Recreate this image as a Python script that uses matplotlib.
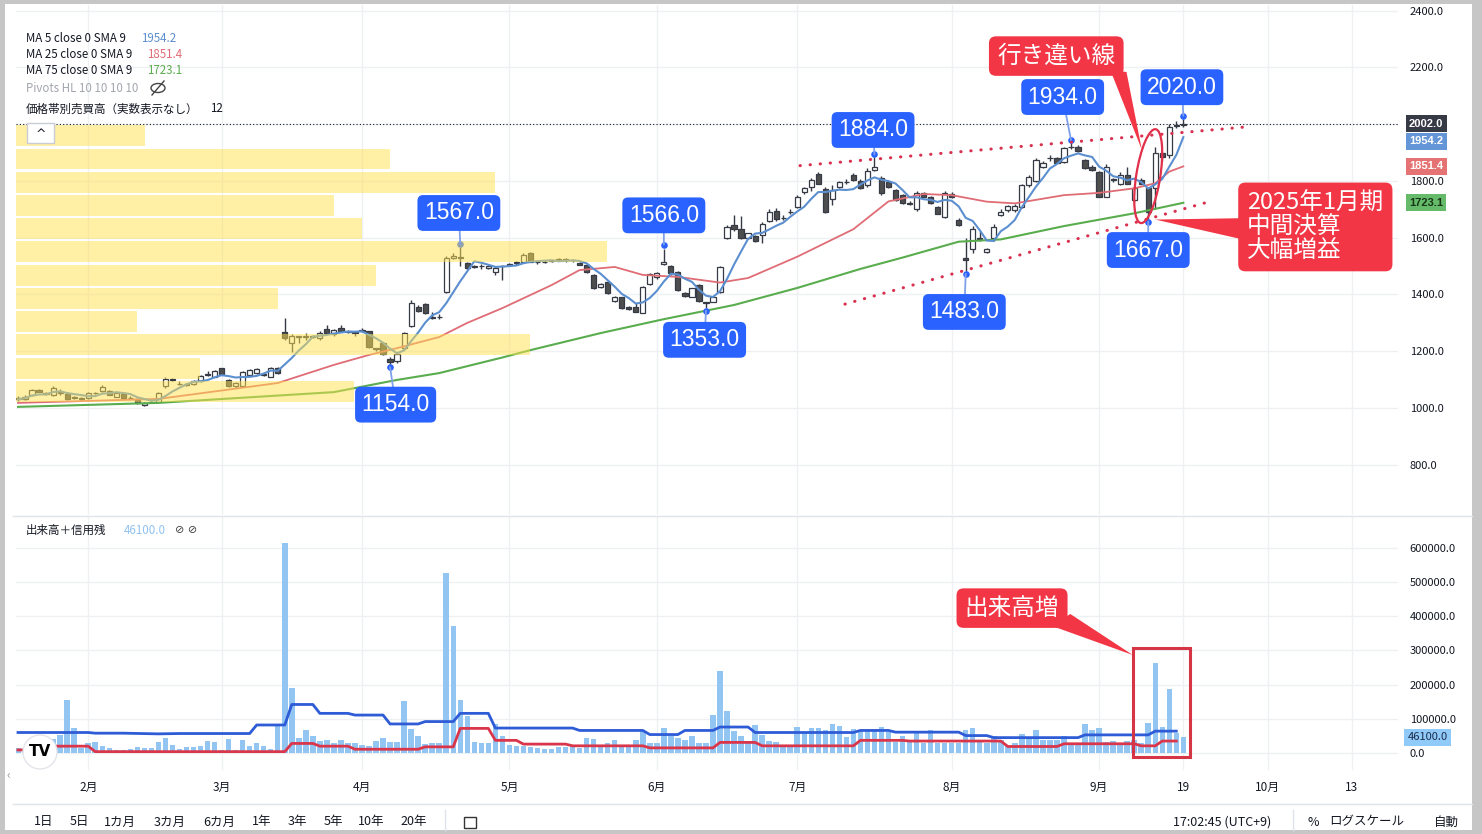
import numpy as np
import pandas as pd
import matplotlib
matplotlib.use("Agg")
import matplotlib.pyplot as plt
from matplotlib.patches import Rectangle, Ellipse, Polygon
from matplotlib.lines import Line2D
from matplotlib import transforms

plt.rcParams["font.family"] = ["Noto Sans CJK JP", "DejaVu Sans"]

# ================================
# DATA (daily candles)
# ================================

opens = [
    1035, 1032, 1045, 1062, 1052, 1045, 1058, 1048, 1035, 1030,
    1034, 1052, 1060, 1060, 1040, 1050, 1036, 1030, 1012, 1020,
    1022, 1078, 1102, 1085, 1082, 1085, 1095, 1118, 1110, 1140,
    1098, 1078, 1078, 1118, 1122, 1118, 1110, 1142, 1268, 1228,
    1250, 1250, 1250, 1245, 1280, 1260, 1282, 1270, 1268, 1275,
    1270, 1210, 1228, 1172, 1165, 1210, 1290, 1355, 1365, 1318,
    1322, 1408, 1530, 1533, 1510, 1500, 1500, 1495, 1480, 1500,
    1505, 1510, 1516, 1545, 1513, 1513, 1518, 1522, 1523, 1522,
    1512, 1505, 1468, 1427, 1444, 1376, 1390, 1356, 1356, 1335,
    1436, 1460, 1508, 1500, 1479, 1405, 1392, 1433, 1370, 1375,
    1409, 1598, 1645, 1630, 1600, 1605, 1608, 1660, 1695, 1668,
    1690, 1710, 1760, 1780, 1825, 1770, 1735, 1780, 1795, 1820,
    1800, 1785, 1840, 1810, 1797, 1768, 1750, 1722, 1700, 1757,
    1742, 1707, 1672, 1755, 1662, 1527, 1560, 1598, 1550, 1598,
    1680, 1697, 1697, 1709, 1786, 1800, 1850, 1880, 1880, 1868,
    1918, 1920, 1874, 1850, 1830, 1745, 1805, 1790, 1822, 1733,
    1805, 1774, 1774, 1897, 1890, 1995, 1998,
]
highs = [
    1042, 1045, 1068, 1066, 1058, 1078, 1068, 1058, 1042, 1038,
    1058, 1058, 1080, 1062, 1055, 1053, 1042, 1034, 1020, 1024,
    1058, 1110, 1105, 1095, 1088, 1098, 1118, 1130, 1135, 1142,
    1102, 1092, 1132, 1138, 1142, 1125, 1145, 1146, 1316, 1260,
    1255, 1265, 1258, 1272, 1292, 1280, 1292, 1275, 1270, 1282,
    1272, 1212, 1232, 1178, 1195, 1268, 1380, 1362, 1370, 1340,
    1330, 1535, 1545, 1567, 1515, 1503, 1508, 1505, 1500, 1505,
    1510, 1518, 1545, 1548, 1518, 1520, 1523, 1527, 1528, 1526,
    1515, 1508, 1472, 1440, 1448, 1395, 1392, 1360, 1370, 1430,
    1475, 1480, 1562, 1505, 1482, 1408, 1424, 1436, 1375, 1395,
    1500, 1645, 1680, 1678, 1618, 1610, 1655, 1700, 1705, 1680,
    1700, 1750, 1778, 1812, 1830, 1780, 1785, 1800, 1808, 1828,
    1808, 1845, 1884, 1818, 1805, 1772, 1755, 1730, 1765, 1762,
    1748, 1712, 1765, 1760, 1668, 1600, 1640, 1625, 1565, 1650,
    1700, 1715, 1720, 1790, 1820, 1880, 1870, 1890, 1885, 1920,
    1934, 1925, 1878, 1855, 1835, 1860, 1812, 1830, 1850, 1778,
    1810, 1780, 1920, 1900, 2000, 2012, 2020,
]
lows = [
    1025, 1028, 1042, 1055, 1045, 1042, 1045, 1028, 1030, 1025,
    1032, 1048, 1058, 1045, 1038, 1035, 1030, 1015, 1008, 1018,
    1020, 1070, 1095, 1080, 1078, 1082, 1093, 1112, 1108, 1120,
    1075, 1072, 1075, 1115, 1120, 1112, 1108, 1120, 1240, 1197,
    1230, 1240, 1245, 1240, 1262, 1255, 1268, 1265, 1255, 1268,
    1212, 1200, 1188, 1154, 1160, 1205, 1285, 1340, 1332, 1312,
    1312, 1405, 1525, 1500, 1490, 1495, 1490, 1490, 1470, 1450,
    1500, 1505, 1514, 1514, 1508, 1510, 1515, 1518, 1515, 1516,
    1503, 1476, 1420, 1422, 1403, 1372, 1348, 1345, 1338, 1333,
    1432, 1455, 1505, 1470, 1412, 1392, 1390, 1374, 1353, 1372,
    1405, 1595, 1625, 1595, 1595, 1585, 1580, 1655, 1660, 1662,
    1685, 1705, 1755, 1765, 1788, 1688, 1715, 1775, 1788, 1800,
    1772, 1780, 1835, 1752, 1775, 1730, 1718, 1716, 1695, 1742,
    1718, 1683, 1668, 1740, 1642, 1483, 1545, 1590, 1545, 1590,
    1675, 1690, 1692, 1705, 1780, 1795, 1845, 1870, 1862, 1865,
    1912, 1902, 1842, 1835, 1742, 1742, 1798, 1785, 1788, 1725,
    1788, 1667, 1700, 1872, 1880, 1985, 1990,
]
closes = [
    1030, 1040, 1062, 1058, 1050, 1072, 1052, 1032, 1038, 1034,
    1052, 1053, 1075, 1047, 1052, 1037, 1035, 1018, 1018, 1021,
    1052, 1102, 1098, 1083, 1083, 1094, 1113, 1119, 1131, 1121,
    1078, 1088, 1128, 1134, 1138, 1119, 1141, 1122, 1248, 1252,
    1250, 1252, 1253, 1266, 1266, 1275, 1270, 1268, 1266, 1271,
    1215, 1208, 1190, 1162, 1190, 1265, 1370, 1342, 1336, 1320,
    1320, 1528, 1535, 1530, 1495, 1497, 1502, 1500, 1492, 1500,
    1506, 1513, 1540, 1516, 1513, 1514, 1520, 1523, 1522, 1521,
    1505, 1478, 1424, 1437, 1406, 1392, 1352, 1350, 1340, 1426,
    1471, 1476, 1515, 1476, 1415, 1395, 1422, 1376, 1371, 1392,
    1497, 1638, 1630, 1600, 1615, 1590, 1650, 1690, 1665, 1670,
    1692, 1745, 1775, 1803, 1790, 1692, 1767, 1795, 1797, 1805,
    1775, 1836, 1850, 1756, 1780, 1733, 1722, 1720, 1758, 1745,
    1722, 1685, 1757, 1743, 1645, 1520, 1630, 1595, 1560, 1638,
    1692, 1712, 1712, 1786, 1815, 1874, 1865, 1880, 1865, 1915,
    1920, 1905, 1845, 1838, 1745, 1850, 1805, 1822, 1790, 1774,
    1790, 1690, 1897, 1884, 1990, 1998, 2002,
]
# volume in thousand shares
volumes_k = [
    15, 12, 15, 15, 18, 40, 53, 155, 72, 14,
    28, 31, 20, 14, 10, 10, 12, 18, 15, 14,
    31, 44, 22, 12, 17, 17, 20, 36, 33, 10,
    42, 10, 38, 20, 28, 20, 12, 79, 614, 190,
    45, 68, 49, 36, 39, 30, 39, 28, 28, 24,
    20, 36, 45, 32, 32, 152, 70, 50, 25, 28,
    30, 528, 372, 155, 107, 32, 28, 28, 84, 49,
    22, 20, 20, 18, 15, 13, 13, 18, 18, 21,
    15, 44, 41, 21, 29, 39, 20, 24, 39, 63,
    29, 29, 73, 49, 44, 37, 51, 29, 29, 112,
    241, 122, 63, 49, 34, 83, 54, 34, 31, 20,
    20, 76, 60, 73, 73, 68, 86, 80, 47, 70,
    64, 68, 66, 76, 60, 31, 51, 37, 60, 29,
    68, 29, 29, 29, 29, 68, 73, 39, 29, 51,
    39, 20, 29, 57, 47, 66, 39, 39, 39, 49,
    29, 29, 86, 66, 72, 32, 34, 29, 34, 39,
    29, 87, 264, 77, 187, 58, 46.1,
]

ma25_day = [0, 20, 37, 45, 50, 54, 60, 64, 69, 76, 80, 85, 89, 94, 100, 104,
            111, 119, 124, 129, 133, 138, 142, 149, 154, 159, 162, 164, 166]
ma25_val = [1018, 1032, 1088, 1152, 1187, 1211, 1250, 1300, 1352, 1433, 1486,
            1497, 1469, 1462, 1442, 1458, 1533, 1630, 1728, 1754, 1750, 1727,
            1721, 1750, 1758, 1774, 1792, 1833, 1851.4]
ma75_day = [0, 20, 45, 54, 60, 69, 73, 83, 92, 102, 111, 120, 126, 134, 140,
            149, 159, 166]
ma75_val = [1004, 1018, 1056, 1099, 1123, 1178, 1204, 1264, 1313, 1363, 1423,
            1490, 1530, 1586, 1594, 1641, 1686, 1723.1]

# margin balance (buy / sell), thousand shares
margin_buy_day = [0, 10, 11, 15, 20, 23, 33, 34, 38, 39, 42, 43, 47, 48, 52, 53,
                  57, 58, 62, 63, 67, 68, 79, 80, 89, 90, 94, 95, 99, 100, 104,
                  105, 119, 120, 124, 125, 134, 135, 138, 139, 151, 152, 161,
                  162, 165]
margin_buy_k = [60, 60, 58, 58, 56, 57, 57, 82, 82, 142, 142, 116, 116, 111,
                111, 85, 85, 92, 92, 116, 116, 73, 73, 66, 66, 54, 54, 66, 66,
                76, 76, 60, 60, 66, 66, 61, 61, 51, 51, 45, 45, 53, 53, 64, 64]
margin_sell_day = [0, 4, 5, 10, 11, 38, 39, 42, 43, 47, 48, 57, 58, 62, 63, 67,
                   68, 71, 72, 78, 79, 89, 90, 99, 100, 105, 106, 119, 120, 126,
                   127, 140, 141, 148, 149, 159, 160, 162, 163, 165]
margin_sell_k = [9, 9, 20, 20, 4, 4, 28, 28, 20, 20, 11, 11, 18, 18, 72, 72,
                 37, 37, 26, 26, 21, 21, 15, 15, 31, 31, 21, 21, 37, 37, 35, 35,
                 19, 19, 27, 27, 21, 21, 35, 35]

# volume profile, 12 rows bottom -> top (relative)
vp_rows = [338, 184, 514, 121, 262, 360, 592, 346, 318, 479, 374, 129]
vp_low, vp_high = 1018, 2000

# pivots HL
pivot_day = [53, 63, 92, 98, 122, 135, 150, 161, 166]
pivot_price = [1154, 1567, 1566, 1353, 1884, 1483, 1934, 1667, 2020]
pivot_is_high = [False, True, True, False, True, False, True, False, True]
pivot_label_offset = [(4, -27), (-1, 22.5), (0, 21), (-1, -21), (-1, 17.5),
                      (-1, -27.5), (-6, 31), (0, -20.5), (-1, 20.5)]

# hand-drawn trend lines
trend_upper_day = [111.4, 174.8]
trend_upper_price = [1854, 1990]
trend_lower_day = [117.8, 169.7]
trend_lower_price = [1366, 1727]

month_pos = [10, 29, 49, 70, 91, 111, 133, 154, 166, 178, 190]
month_labels = ["2月", "3月", "4月", "5月", "6月", "7月", "8月", "9月", "19", "10月", "13"]
price_ticks = [800, 1000, 1200, 1400, 1600, 1800, 2000, 2200, 2400]
vol_ticks = [0, 100000, 200000, 300000, 400000, 500000, 600000]

# ================================
# FIGURE
# ================================

W, H = 1482, 834
fig = plt.figure(figsize=(W / 100, H / 100), dpi=100)
fig.patch.set_facecolor("#c6c6c6")


def fx(px):
    return px / W


def fy(py):
    return 1 - py / H


fig.add_artist(Rectangle((fx(5), fy(830)), fx(1472) - fx(5), fy(4) - fy(830),
                         transform=fig.transFigure, facecolor="white",
                         edgecolor="none", zorder=-10))

X0, X1 = -0.285, 196.58
ax = fig.add_axes([fx(16), fy(515), fx(1398) - fx(16), fy(5) - fy(515)])
axv = fig.add_axes([fx(16), fy(770), fx(1398) - fx(16), fy(517) - fy(770)])
for a in (ax, axv):
    a.set_facecolor("none")
    for s in a.spines.values():
        s.set_visible(False)
    a.set_xlim(X0, X1)
    for m in month_pos:
        a.axvline(m, color="#eef0f4", lw=1, zorder=0)
ax.set_ylim(623, 2420)
axv.set_ylim(-49750, 690660)
for p in price_ticks:
    ax.axhline(p, color="#eef0f4", lw=1, zorder=0)
for v in vol_ticks:
    axv.axhline(v, color="#eef0f4", lw=1, zorder=0)

ax.yaxis.tick_right()
ax.set_yticks(price_ticks)
ax.set_yticklabels(["" if p == 2000 else f"{p:.1f}" for p in price_ticks])
ax.tick_params(axis="y", length=0, pad=8.5, labelsize=8, labelcolor="#131722")
ax.tick_params(axis="x", length=0, labelbottom=False)

axv.yaxis.tick_right()
axv.set_yticks(vol_ticks)
axv.set_yticklabels([f"{v:.1f}" for v in vol_ticks])
axv.tick_params(axis="y", length=0, pad=8.5, labelsize=8, labelcolor="#131722")
axv.set_xticks(month_pos)
axv.set_xticklabels(month_labels)
axv.tick_params(axis="x", length=0, pad=8, labelsize=8.5, labelcolor="#131722")

# candles
o = np.array(opens, float)
h = np.array(highs, float)
l = np.array(lows, float)
c = np.array(closes, float)
idx = np.arange(len(c))
up = c >= o
ax.vlines(idx, l, h, color="#363a45", lw=1, zorder=3)
body_bot = np.minimum(o, c)
body_h = np.maximum(np.abs(c - o), 2.0)
ax.bar(idx[up], body_h[up], bottom=body_bot[up], width=0.74, color="white",
       edgecolor="#363a45", lw=0.9, zorder=4)
ax.bar(idx[~up], body_h[~up], bottom=body_bot[~up], width=0.74, color="#4e4e4e",
       edgecolor="#363a45", lw=0.9, zorder=4)

# moving averages
ma5 = pd.Series(c).rolling(5, min_periods=1).mean()
ax.plot(ma25_day, ma25_val, color="#e06c75", lw=1.3, zorder=5)
ax.plot(ma75_day, ma75_val, color="#5aad4e", lw=1.5, zorder=5)
ax.plot(idx, ma5, color="#5b8fd0", lw=1.5, zorder=5)

# volume profile overlay
vp_edges = np.linspace(vp_low, vp_high, len(vp_rows) + 1)
row_h = vp_edges[1] - vp_edges[0]
vp_len = np.array(vp_rows) / max(vp_rows) * 0.428 * (X1 - X0)
ax.barh(vp_edges[:-1] + row_h / 2, vp_len, height=row_h * 0.9, left=X0,
        color="#ffe24f", alpha=0.5, zorder=6)

# last price line
ax.axhline(c[-1], color="#131722", lw=0.8, ls=(0, (1, 2)), zorder=2)

# trend lines
for dd, pp in ((trend_upper_day, trend_upper_price), (trend_lower_day, trend_lower_price)):
    ax.plot(dd, pp, color="#d9304f", lw=2.2, ls=(0, (0.1, 3.2)),
            dash_capstyle="round", zorder=7)

# pivot labels
for d, p, hi, (dx, dy) in zip(pivot_day, pivot_price, pivot_is_high, pivot_label_offset):
    yd = p + 10 if hi else p - 10
    ax.scatter([d], [yd], s=14, color="#2962ff", zorder=5)
    ax.annotate(f"{p:.1f}", xy=(d, yd), xytext=(dx, dy), textcoords="offset points",
                ha="center", va="center", fontsize=16.5, family="Liberation Sans",
                color="white", zorder=8,
                bbox=dict(boxstyle="round,pad=0.28,rounding_size=0.25",
                          fc="#2962ff", ec="none"),
                arrowprops=dict(arrowstyle="-", color="#7fa0ea", lw=1.3,
                                shrinkA=0, shrinkB=0))

# red ellipse around the crossing candles
ell_tr = fig.dpi_scale_trans + transforms.ScaledTranslation(161, 1817, ax.transData)
ax.add_artist(Ellipse((0, 0), 0.24, 0.95, angle=-9, transform=ell_tr, fill=False,
                      ec="#e0304a", lw=1.6, zorder=9))

# red callouts
RED = "#f23645"
ax.add_patch(Polygon([(155.6, 2191), (157.9, 2184), (160.1, 1909)], closed=True,
                     fc=RED, ec="none", zorder=9, clip_on=False))
ax.text(147.9, 2240, "行き違い線", ha="center", va="center", fontsize=17,
        color="white", zorder=10,
        bbox=dict(boxstyle="round,pad=0.35,rounding_size=0.3", fc=RED, ec="none"))
ax.add_patch(Polygon([(162.0, 1664), (174.8, 1669), (174.8, 1592)], closed=True,
                     fc=RED, ec="none", zorder=9))
ax.text(175.1, 1638, "2025年1月期\n中間決算\n大幅増益", ha="left", va="center",
        fontsize=17, color="white", linespacing=1.05, zorder=10,
        bbox=dict(boxstyle="round,pad=0.38,rounding_size=0.3", fc=RED, ec="none"))

# volume panel
vol = np.array(volumes_k) * 1000
axv.bar(idx, vol, width=0.78, color="#93c5f3", zorder=2)
axv.plot(margin_buy_day, np.array(margin_buy_k) * 1000, color="#2e5bd6", lw=2, zorder=3)
axv.plot(margin_sell_day, np.array(margin_sell_k) * 1000, color="#d9364b", lw=2, zorder=3)
axv.add_patch(Rectangle((158.8, -12000), 8.2, 319000, fill=False, ec="#d63545",
                        lw=2.2, zorder=6))
axv.add_patch(Polygon([(147.3, 371700), (149.9, 406800), (158.8, 286800)],
                      closed=True, fc=RED, ec="none", zorder=9))
axv.text(141.6, 424000, "出来高増", ha="center", va="center", fontsize=17,
         color="white", zorder=10,
         bbox=dict(boxstyle="round,pad=0.35,rounding_size=0.3", fc=RED, ec="none"))

# price scale tags
blend = transforms.blended_transform_factory(ax.transAxes, ax.transData)
tags = [(c[-1], "#363a45", "white", 0), (ma5.iloc[-1], "#6495d6", "white", -3),
        (ma25_val[-1], "#e57373", "white", 0), (ma75_val[-1], "#66bb6a", "#173517", 0)]
for val, bg, fg, dy in tags:
    ax.annotate(f"{val:.1f}", xy=(1.0, val), xycoords=blend, xytext=(8, dy),
                textcoords="offset points", ha="left", va="center", fontsize=8,
                fontweight="bold", family="Liberation Sans", color=fg,
                annotation_clip=False, zorder=10,
                bbox=dict(boxstyle="square,pad=0.3", fc=bg, ec="none"))
blendv = transforms.blended_transform_factory(axv.transAxes, axv.transData)
axv.annotate(f"{vol[-1]:.1f}", xy=(1.0, vol[-1]), xycoords=blendv, xytext=(7, 0),
             textcoords="offset points", ha="left", va="center", fontsize=8,
             color="#1b2b4a", annotation_clip=False,
             bbox=dict(boxstyle="square,pad=0.3", fc="#90caf9", ec="none"))

# ================================
# LEGENDS / TOOLBAR
# ================================

TXT = "#131722"
LS = 8.3
fig.text(fx(26), fy(38), "MA 5 close 0 SMA 9", fontsize=LS, color=TXT, va="center")
fig.text(fx(141), fy(38), f"{ma5.iloc[-1]:.1f}", fontsize=LS, color="#5b8fd0", va="center")
fig.text(fx(26), fy(54), "MA 25 close 0 SMA 9", fontsize=LS, color=TXT, va="center")
fig.text(fx(147), fy(54), f"{ma25_val[-1]:.1f}", fontsize=LS, color="#e06c75", va="center")
fig.text(fx(26), fy(70), "MA 75 close 0 SMA 9", fontsize=LS, color=TXT, va="center")
fig.text(fx(147), fy(70), f"{ma75_val[-1]:.1f}", fontsize=LS, color="#5aad4e", va="center")
fig.text(fx(26), fy(88), "Pivots HL 10 10 10 10", fontsize=LS, color="#a3a6af", va="center")
fig.add_artist(Ellipse((fx(158), fy(88)), 14 / W, 9 / H, transform=fig.transFigure,
                       fill=False, ec="#444", lw=1))
fig.add_artist(Line2D([fx(152), fx(164)], [fy(95), fy(81)], transform=fig.transFigure,
                      color="#444", lw=1))
fig.text(fx(26), fy(109), "価格帯別売買高（実数表示なし）", fontsize=LS, color=TXT, va="center")
fig.text(fx(210), fy(109), "12", fontsize=LS, color=TXT, va="center")
fig.add_artist(Rectangle((fx(27), fy(143)), 27 / W, 20 / H, transform=fig.transFigure,
                         fc="white", ec="#c9ccd4", lw=1, zorder=5))
fig.text(fx(40.5), fy(134), "^", fontsize=9, color=TXT, ha="center", va="center",
         family="DejaVu Sans", zorder=6)

fig.text(fx(26), fy(530), "出来高＋信用残", fontsize=LS, color=TXT, va="center")
fig.text(fx(124), fy(530), f"{vol[-1]:.1f}", fontsize=LS, color="#90c2f0", va="center")
fig.text(fx(175), fy(530), "⊘ ⊘", fontsize=8, color="#444", va="center",
         family="DejaVu Sans")

# TradingView logo
fig.add_artist(Ellipse((fx(40), fy(752)), 34 / W, 34 / H, transform=fig.transFigure,
                       fc="white", ec="#e3e5ea", lw=1, zorder=5))
fig.text(fx(40), fy(752), "TV", fontsize=11, fontweight="bold", color="black",
         ha="center", va="center", family="DejaVu Sans", zorder=6)
fig.text(fx(8), fy(775), "‹", fontsize=9, color="#999", ha="center", va="center")

# separators
for yy in (516, 804):
    fig.add_artist(Line2D([fx(13), fx(1472)], [fy(yy), fy(yy)], transform=fig.transFigure,
                          color="#e0e3eb", lw=1))
for xx in (445, 1293):
    fig.add_artist(Line2D([fx(xx), fx(xx)], [fy(810), fy(830)], transform=fig.transFigure,
                          color="#e0e3eb", lw=1))

tool_labels = ["1日", "5日", "1カ月", "3カ月", "6カ月", "1年", "3年", "5年", "10年", "20年"]
tool_x = [44, 79, 120, 170, 219, 262, 297, 333, 371, 414]
for t, xx in zip(tool_labels, tool_x):
    fig.text(fx(xx), fy(822), t, fontsize=9, color=TXT, ha="center", va="center")
fig.add_artist(Rectangle((fx(464), fy(828)), 12 / W, 11 / H, transform=fig.transFigure,
                         fill=False, ec="#333", lw=1))
fig.text(fx(1222), fy(822), "17:02:45 (UTC+9)", fontsize=9, color=TXT, ha="center", va="center")
fig.text(fx(1313), fy(822), "%", fontsize=9, color=TXT, ha="center", va="center")
fig.text(fx(1367), fy(822), "ログスケール", fontsize=9, color=TXT, ha="center", va="center")
fig.text(fx(1446), fy(822), "自動", fontsize=9, color=TXT, ha="center", va="center")

fig.savefig("out.png", dpi=100)
